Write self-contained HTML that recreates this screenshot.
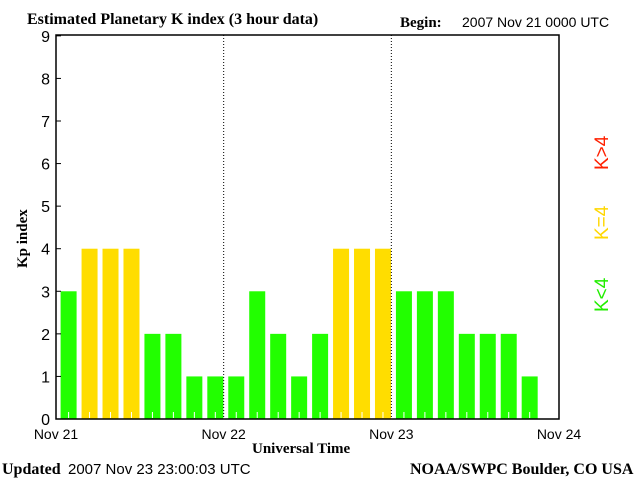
<!DOCTYPE html>
<html><head><style>
body{margin:0;background:#fff;width:640px;height:480px;overflow:hidden}
text{font-family:"Liberation Serif",serif}
.s{font-family:"Liberation Sans",sans-serif}
</style></head><body>
<svg id="c" width="640" height="480">
<text x="27" y="24" font-size="16" font-weight="bold">Estimated Planetary K index (3 hour data)</text>
<text x="400" y="27" font-size="15" font-weight="bold">Begin:</text>
<text x="462" y="27" font-size="14" class="s">2007 Nov 21 0000 UTC</text>
<g id="bars"></g>
<g id="axes"></g>
<text x="252" y="453" font-size="15" font-weight="bold">Universal Time</text>
<text transform="translate(27,268) rotate(-90)" font-size="15" font-weight="bold">Kp index</text>
<text x="2" y="474" font-size="16" font-weight="bold">Updated</text>
<text x="68" y="474" font-size="15" class="s">2007 Nov 23 23:00:03 UTC</text>
<text x="410" y="474" font-size="16" font-weight="bold">NOAA/SWPC Boulder, CO USA</text>
<text transform="translate(608,312) rotate(-90)" font-size="19" fill="#22ee00" class="s">K&lt;4</text>
<text transform="translate(608,240) rotate(-90)" font-size="19" fill="#ffd700" class="s">K=4</text>
<text transform="translate(608,170) rotate(-90)" font-size="19" fill="#ff2000" class="s">K&gt;4</text>
</svg>
<script>
const kpValues=[3,4,4,4,2,2,1,1, 1,3,2,1,2,4,4,4, 3,3,3,2,2,2,1];
const dayLabels=["Nov 21","Nov 22","Nov 23","Nov 24"];
const yTicks=[0,1,2,3,4,5,6,7,8,9];
const NS="http://www.w3.org/2000/svg";
const L=56,R=559,T=35,B=419,YMAX=9.02;
const slot=(R-L)/24;
const xs=i=>L+i*slot;
const ys=v=>B-v*(B-T)/YMAX;
function mk(tag,at,parent){const e=document.createElementNS(NS,tag);for(const k in at)e.setAttribute(k,at[k]);parent.appendChild(e);return e;}
const bars=document.getElementById('bars'),axes=document.getElementById('axes');
kpValues.forEach((v,i)=>{
 const col=v<4?'#22ff00':(v==4?'#ffdd00':'#ff2000');
 const r=mk('rect',{x:xs(i)+4.6,y:ys(v),width:16,height:B-ys(v),fill:col},bars);
 
 
 const t=mk('line',{x1:xs(i)+12.6,x2:xs(i)+12.6,y1:B-7,y2:B-1,stroke:'#fff'},bars);
 
 
});
const frame=mk('rect',{x:L,y:T,width:R-L,height:B-T,fill:'none',stroke:'#000','stroke-width':1.5},axes);


yTicks.forEach(v=>{
 const y=ys(v);
 const l=mk('line',{x1:L,x2:L+5,y1:y,y2:y,stroke:'#000'},axes);
 
 
 const t=mk('text',{x:L-6,y:y+6,'font-size':16,'text-anchor':'end',class:'s'},axes);
 t.textContent=v;
 
 
});
dayLabels.forEach((d,i)=>{
 const x=xs(i*8);
 if(i>0&&i<3){const l=mk('line',{x1:x,x2:x,y1:T,y2:B,stroke:'#000','stroke-dasharray':'1,2'},axes);
 
 }
 const t=mk('text',{x:x,y:439,'font-size':14,'text-anchor':'middle',class:'s'},axes);
 t.textContent=d;
 
 
});
</script>
</body></html>
